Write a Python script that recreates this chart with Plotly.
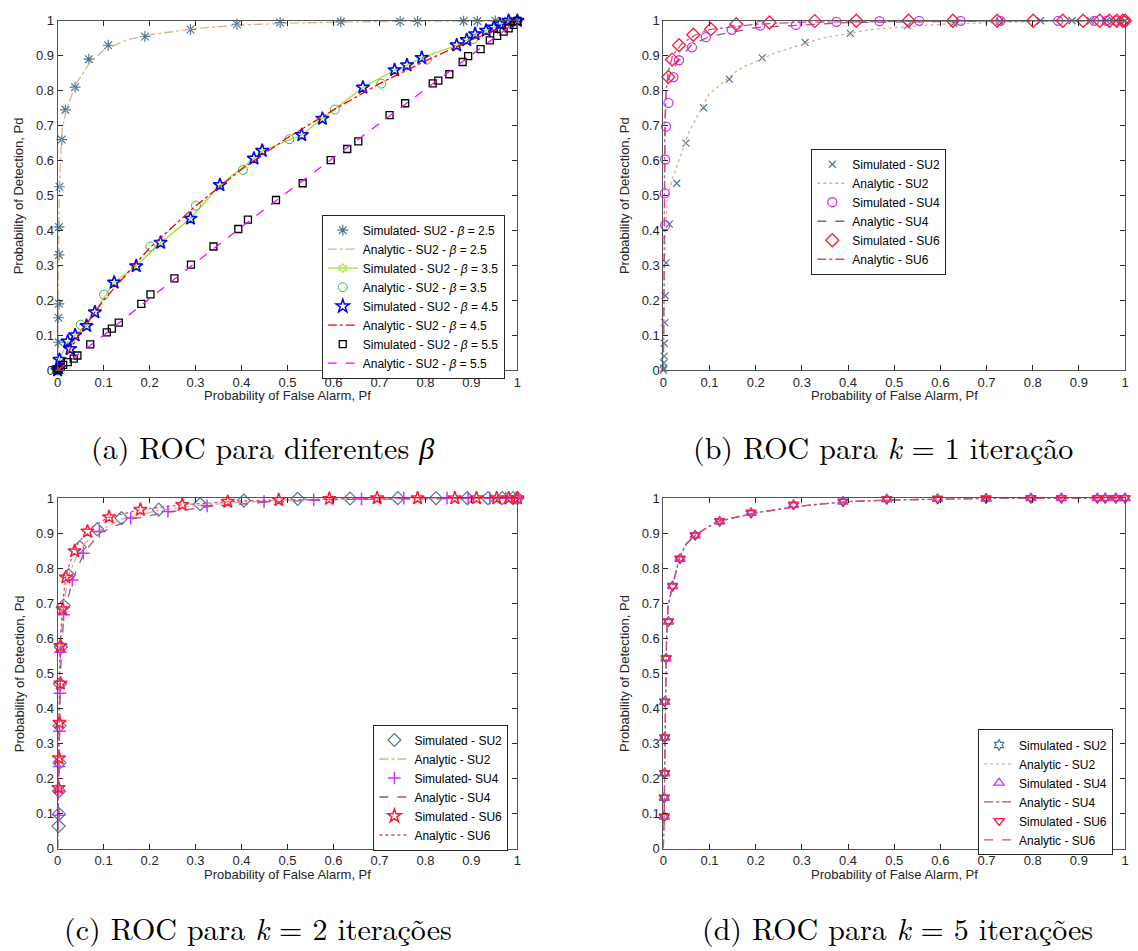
import plotly.graph_objects as go

# ---------------- (a) ROC para diferentes beta ----------------
a_sim25_x = [0.0, 0.002, 0.002, 0.003, 0.003, 0.003, 0.004, 0.009, 0.017, 0.038, 0.068, 0.11, 0.19, 0.289, 0.39, 0.484, 0.616, 0.745, 0.783, 0.883, 0.913, 0.952, 0.98, 1.0]
a_sim25_y = [0.0, 0.08, 0.15, 0.19, 0.33, 0.41, 0.525, 0.66, 0.745, 0.81, 0.89, 0.93, 0.955, 0.975, 0.99, 0.995, 0.997, 0.998, 0.998, 0.999, 0.999, 1.0, 1.0, 1.0]
a_an25_x = [0.0, 0.001, 0.003, 0.006, 0.01, 0.02, 0.04, 0.07, 0.1, 0.15, 0.2, 0.3, 0.4, 0.5, 0.6, 0.8, 1.0]
a_an25_y = [0.0, 0.2, 0.45, 0.6, 0.69, 0.75, 0.82, 0.88, 0.915, 0.945, 0.96, 0.978, 0.988, 0.993, 0.996, 0.999, 1.0]

a_sim45_x = [0.0, 0.002, 0.004, 0.022, 0.027, 0.038, 0.063, 0.081, 0.123, 0.171, 0.224, 0.289, 0.353, 0.427, 0.445, 0.531, 0.576, 0.664, 0.733, 0.760, 0.792, 0.868, 0.89, 0.908, 0.932, 0.949, 0.962, 0.981, 1.0]
a_sim45_y = [0.0, 0.006, 0.03, 0.082, 0.061, 0.10, 0.127, 0.166, 0.251, 0.298, 0.365, 0.434, 0.53, 0.606, 0.628, 0.673, 0.72, 0.809, 0.859, 0.873, 0.894, 0.93, 0.945, 0.962, 0.972, 0.981, 0.99, 1.0, 1.0]
a_an35_x = [0.0, 0.05, 0.101, 0.202, 0.301, 0.403, 0.504, 0.603, 0.704, 0.803, 0.904, 1.0]
a_an35_y = [0.0, 0.13, 0.216, 0.354, 0.471, 0.573, 0.661, 0.746, 0.82, 0.889, 0.948, 1.0]
a_an45_x = [0.0, 0.05, 0.1, 0.2, 0.3, 0.4, 0.5, 0.6, 0.7, 0.8, 0.9, 1.0]
a_an45_y = [0.0, 0.11, 0.2, 0.35, 0.47, 0.575, 0.665, 0.745, 0.82, 0.885, 0.945, 1.0]

a_sim55_x = [0.0, 0.007, 0.012, 0.022, 0.035, 0.043, 0.071, 0.107, 0.118, 0.133, 0.182, 0.202, 0.254, 0.29, 0.339, 0.393, 0.414, 0.475, 0.533, 0.594, 0.63, 0.654, 0.722, 0.756, 0.816, 0.828, 0.852, 0.881, 0.893, 0.92, 0.94, 0.956, 0.97, 0.981, 0.992, 1.0]
a_sim55_y = [0.002, 0.009, 0.015, 0.023, 0.033, 0.042, 0.074, 0.108, 0.119, 0.136, 0.19, 0.217, 0.263, 0.302, 0.354, 0.404, 0.431, 0.487, 0.535, 0.601, 0.633, 0.655, 0.73, 0.764, 0.821, 0.829, 0.847, 0.882, 0.899, 0.919, 0.944, 0.957, 0.969, 0.978, 0.988, 1.0]
a_an55_x = [0.0, 0.1, 0.2, 0.3, 0.4, 0.5, 0.6, 0.7, 0.8, 0.9, 1.0]
a_an55_y = [0.0, 0.1, 0.205, 0.308, 0.41, 0.51, 0.608, 0.707, 0.805, 0.903, 1.0]

# ---------------- (b) k = 1 ----------------
b_sim2_x = [0.0, 0.001, 0.001, 0.002, 0.002, 0.003, 0.004, 0.006, 0.013, 0.029, 0.049, 0.087, 0.143, 0.214, 0.307, 0.405, 0.529, 0.629, 0.729, 0.817, 0.885, 0.925, 0.96, 0.98, 1.0]
b_sim2_y = [0.0, 0.006, 0.02, 0.04, 0.077, 0.136, 0.213, 0.307, 0.418, 0.535, 0.65, 0.751, 0.833, 0.894, 0.938, 0.964, 0.986, 0.993, 0.998, 1.0, 1.0, 1.0, 1.0, 1.0, 1.0]
b_an2_x = [0.0, 0.002, 0.004, 0.009, 0.02, 0.034, 0.056, 0.099, 0.163, 0.242, 0.343, 0.45, 0.6, 0.8, 1.0]
b_an2_y = [0.0, 0.25, 0.38, 0.5, 0.55, 0.6, 0.683, 0.79, 0.861, 0.908, 0.95, 0.975, 0.99, 0.998, 1.0]
b_sim4_x = [0.004, 0.003, 0.004, 0.006, 0.011, 0.022, 0.034, 0.062, 0.092, 0.148, 0.21, 0.287, 0.375, 0.468, 0.554, 0.644, 0.73, 0.855, 0.933, 0.96, 0.98, 1.0]
b_sim4_y = [0.415, 0.506, 0.603, 0.697, 0.765, 0.839, 0.887, 0.924, 0.953, 0.974, 0.986, 0.988, 0.997, 0.999, 1.0, 1.0, 1.0, 1.0, 1.0, 1.0, 1.0, 1.0]
b_an4_x = [0.0, 0.002, 0.004, 0.006, 0.01, 0.02, 0.03, 0.06, 0.1, 0.2, 0.4, 0.7, 1.0]
b_an4_y = [0.0, 0.4, 0.7, 0.8, 0.83, 0.86, 0.88, 0.93, 0.955, 0.98, 0.995, 0.999, 1.0]
b_sim6_x = [0.011, 0.019, 0.034, 0.065, 0.103, 0.158, 0.23, 0.328, 0.418, 0.531, 0.627, 0.723, 0.801, 0.865, 0.909, 0.945, 0.966, 0.982, 0.995, 1.0]
b_sim6_y = [0.839, 0.889, 0.93, 0.96, 0.976, 0.99, 0.995, 0.999, 1.0, 1.0, 1.0, 1.0, 1.0, 1.0, 1.0, 1.0, 1.0, 1.0, 1.0, 1.0]
b_an6_x = [0.0, 0.002, 0.003, 0.006, 0.01, 0.02, 0.04, 0.07, 0.1, 0.2, 0.3, 0.6, 1.0]
b_an6_y = [0.0, 0.5, 0.7, 0.8, 0.85, 0.9, 0.935, 0.96, 0.975, 0.99, 0.996, 0.999, 1.0]

# ---------------- (c) k = 2 ----------------
c_sim2_x = [0.002, 0.003, 0.003, 0.004, 0.004, 0.005, 0.007, 0.013, 0.024, 0.048, 0.086, 0.139, 0.22, 0.31, 0.405, 0.522, 0.636, 0.74, 0.823, 0.891, 0.936, 0.967, 0.991, 1.0]
c_sim2_y = [0.064, 0.098, 0.164, 0.245, 0.35, 0.47, 0.575, 0.693, 0.78, 0.86, 0.911, 0.943, 0.967, 0.983, 0.993, 0.998, 0.999, 1.0, 1.0, 1.0, 1.0, 1.0, 1.0, 1.0]
c_an2_x = [0.0, 0.002, 0.004, 0.007, 0.012, 0.024, 0.048, 0.086, 0.14, 0.22, 0.31, 0.45, 0.6, 0.8, 1.0]
c_an2_y = [0.0, 0.2, 0.45, 0.6, 0.69, 0.78, 0.855, 0.905, 0.94, 0.965, 0.98, 0.992, 0.997, 0.999, 1.0]
c_sim4_x = [0.003, 0.002, 0.003, 0.004, 0.005, 0.006, 0.013, 0.032, 0.056, 0.091, 0.159, 0.24, 0.325, 0.449, 0.557, 0.661, 0.753, 0.847, 0.893, 0.94, 0.975, 1.0]
c_sim4_y = [0.095, 0.164, 0.234, 0.335, 0.443, 0.56, 0.667, 0.766, 0.843, 0.905, 0.943, 0.962, 0.978, 0.99, 0.995, 0.998, 1.0, 1.0, 1.0, 1.0, 1.0, 1.0]
c_an4_x = [0.0, 0.003, 0.006, 0.013, 0.032, 0.056, 0.09, 0.16, 0.24, 0.33, 0.45, 0.6, 0.8, 1.0]
c_an4_y = [0.0, 0.3, 0.5, 0.66, 0.765, 0.84, 0.9, 0.94, 0.96, 0.976, 0.988, 0.996, 0.999, 1.0]
c_sim6_x = [0.002, 0.003, 0.004, 0.006, 0.006, 0.011, 0.018, 0.037, 0.065, 0.112, 0.18, 0.271, 0.37, 0.481, 0.591, 0.695, 0.783, 0.864, 0.911, 0.955, 0.981, 1.0]
c_sim6_y = [0.173, 0.258, 0.359, 0.471, 0.578, 0.683, 0.774, 0.849, 0.905, 0.946, 0.967, 0.981, 0.99, 0.995, 0.998, 1.0, 1.0, 1.0, 1.0, 1.0, 1.0, 1.0]
c_an6_x = [0.0, 0.002, 0.004, 0.006, 0.011, 0.018, 0.037, 0.065, 0.11, 0.18, 0.27, 0.4, 0.6, 0.8, 1.0]
c_an6_y = [0.0, 0.3, 0.5, 0.6, 0.7, 0.78, 0.855, 0.91, 0.945, 0.967, 0.981, 0.992, 0.998, 1.0, 1.0]

# ---------------- (d) k = 5 ----------------
d_sim_x = [0.002, 0.002, 0.003, 0.003, 0.003, 0.006, 0.011, 0.02, 0.036, 0.069, 0.122, 0.19, 0.282, 0.389, 0.484, 0.594, 0.699, 0.796, 0.862, 0.94, 0.957, 0.98, 1.0]
d_sim_y = [0.091, 0.145, 0.215, 0.317, 0.419, 0.543, 0.648, 0.749, 0.827, 0.894, 0.934, 0.958, 0.981, 0.99, 0.997, 0.998, 0.999, 1.0, 1.0, 1.0, 1.0, 1.0, 1.0]
d_an_x = [0.0, 0.001, 0.002, 0.003, 0.005, 0.007, 0.01, 0.02, 0.035, 0.05, 0.07, 0.1, 0.12, 0.2, 0.3, 0.4, 0.5, 0.7, 1.0]
d_an_y = [0.0, 0.05, 0.12, 0.25, 0.45, 0.6, 0.69, 0.75, 0.83, 0.87, 0.895, 0.92, 0.934, 0.958, 0.978, 0.99, 0.995, 0.999, 1.0]

ticks = [0, 0.1, 0.2, 0.3, 0.4, 0.5, 0.6, 0.7, 0.8, 0.9, 1]
tick_labels = ["0", "0.1", "0.2", "0.3", "0.4", "0.5", "0.6", "0.7", "0.8", "0.9", "1"]

captions = ["(a) ROC para diferentes <span style=\"font-family:'Liberation Serif'\"><i>β</i></span>",
            "(b) ROC para <i>k</i> = 1 iteração",
            "(c) ROC para <i>k</i> = 2 iterações",
            "(d) ROC para <i>k</i> = 5 iterações"]
x_title = "Probability of False Alarm, Pf"
y_title = "Probability of Detection, Pd"

W, H = 1138, 951
# ---- colours ----
STEEL = "#4a7796"
TAN = "#d9b38c"
YG = "#9ee02e"
GREEN = "#3cb44b"
BLUE = "#0000ff"
RED = "#ff0000"
BLACK = "#000000"
MAG = "#ff00ff"
PURP = "#cc33ff"
MAUVE = "#a3508f"
PINK = "#d9468c"
RED6 = "#ff1a33"

fig = go.Figure()

# panel pixel boxes: left, right, top, bottom
boxes = [(54, 517, 14, 369), (664, 1129, 14, 369), (54, 517, 499, 855), (664, 1129, 499, 855)]
legpos = [(320, 211), (813, 144), (372, 729), (981, 734)]
cap_cx = [260, 885, 256, 900]
cap_cy = [447, 447, 935, 935]


def px2x(p):
    return p / W


def px2y(p):
    return 1 - p / H


axis_color = "#555555"
for i, (l, r, t, b) in enumerate(boxes):
    n = "" if i == 0 else str(i + 1)
    common = dict(range=[0, 1], tickvals=ticks, ticktext=tick_labels, ticks="inside", ticklen=5,
                  tickcolor="#262626", showline=True, linecolor=axis_color, linewidth=1,
                  mirror="allticks", showgrid=False, zeroline=False, fixedrange=True,
                  tickfont=dict(family="Liberation Sans, Arial", size=13, color="#262626"))
    fig.layout["xaxis" + n] = dict(domain=[px2x(l), px2x(r)], anchor="y" + n, **common)
    fig.layout["yaxis" + n] = dict(domain=[px2y(b), px2y(t)], anchor="x" + n, **common)

traces = [
    # panel a
    (0, "Simulated- SU2 - <i>β</i> = 2.5", a_sim25_x, a_sim25_y, "markers", None, None, dict(symbol="asterisk-open", size=9, color=STEEL, line=dict(width=1.2, color=STEEL))),
    (0, "Analytic - SU2 - <i>β</i> = 2.5", a_an25_x, a_an25_y, "lines", TAN, "dashdot", None),
    (0, "Simulated - SU2 - <i>β</i> = 3.5", a_sim45_x, a_sim45_y, "lines+markers", YG, "solid", dict(symbol="hexagram-open", size=7, color=YG, line=dict(width=1, color=YG))),
    (0, "Analytic - SU2 - <i>β</i> = 3.5", a_an35_x, a_an35_y, "markers", None, None, dict(symbol="circle-open", size=9, color=GREEN, line=dict(width=1, color=GREEN))),
    (0, "Simulated - SU2 - <i>β</i> = 4.5", a_sim45_x, a_sim45_y, "markers", None, None, dict(symbol="star-open", size=10, color=BLUE, line=dict(width=1.5, color=BLUE))),
    (0, "Analytic - SU2 - <i>β</i> = 4.5", a_an45_x, a_an45_y, "lines", RED, "dashdot", None),
    (0, "Simulated - SU2 - <i>β</i> = 5.5", a_sim55_x, a_sim55_y, "markers", None, None, dict(symbol="square-open", size=7, color=BLACK, line=dict(width=1.3, color=BLACK))),
    (0, "Analytic - SU2 - <i>β</i> = 5.5", a_an55_x, a_an55_y, "lines", MAG, "dash", None),
    # panel b
    (1, "Simulated - SU2", b_sim2_x, b_sim2_y, "markers", None, None, dict(symbol="x-thin-open", size=7, color=STEEL, line=dict(width=1.2, color=STEEL))),
    (1, "Analytic - SU2", b_an2_x, b_an2_y, "lines", TAN, "dot", None),
    (1, "Simulated - SU4", b_sim4_x, b_sim4_y, "markers", None, None, dict(symbol="circle-open", size=9, color=PURP, line=dict(width=1.3, color=PURP))),
    (1, "Analytic - SU4", b_an4_x, b_an4_y, "lines", MAUVE, "dash", None),
    (1, "Simulated - SU6", b_sim6_x, b_sim6_y, "markers", None, None, dict(symbol="diamond-open", size=10, color=RED6, line=dict(width=1.3, color=RED6))),
    (1, "Analytic - SU6", b_an6_x, b_an6_y, "lines", PINK, "dashdot", None),
    # panel c
    (2, "Simulated - SU2", c_sim2_x, c_sim2_y, "markers", None, None, dict(symbol="diamond-open", size=10, color=STEEL, line=dict(width=1.2, color=STEEL))),
    (2, "Analytic - SU2", c_an2_x, c_an2_y, "lines", TAN, "dashdot", None),
    (2, "Simulated- SU4", c_sim4_x, c_sim4_y, "markers", None, None, dict(symbol="cross-thin-open", size=9, color=PURP, line=dict(width=1.5, color=PURP))),
    (2, "Analytic - SU4", c_an4_x, c_an4_y, "lines", MAUVE, "dash", None),
    (2, "Simulated - SU6", c_sim6_x, c_sim6_y, "markers", None, None, dict(symbol="star-open", size=10, color=RED6, line=dict(width=1.5, color=RED6))),
    (2, "Analytic - SU6", c_an6_x, c_an6_y, "lines", PINK, "dot", None),
    # panel d
    (3, "Simulated - SU2", d_sim_x, d_sim_y, "markers", None, None, dict(symbol="hexagram-open", size=8, color=STEEL, line=dict(width=1.2, color=STEEL))),
    (3, "Analytic - SU2", d_an_x, d_an_y, "lines", TAN, "dot", None),
    (3, "Simulated - SU4", d_sim_x, d_sim_y, "markers", None, None, dict(symbol="triangle-up-open", size=9, color=PURP, line=dict(width=1.3, color=PURP))),
    (3, "Analytic - SU4", d_an_x, d_an_y, "lines", MAUVE, "dashdot", None),
    (3, "Simulated - SU6", d_sim_x, d_sim_y, "markers", None, None, dict(symbol="triangle-down-open", size=9, color=RED6, line=dict(width=1.3, color=RED6))),
    (3, "Analytic - SU6", d_an_x, d_an_y, "lines", PINK, "dash", None),
]

for (p, name, xs, ys, mode, lc, dash, mk) in traces:
    n = "" if p == 0 else str(p + 1)
    kw = dict(x=xs, y=ys, mode=mode, name=name, xaxis="x" + n, yaxis="y" + n,
              legend="legend" if p == 0 else "legend" + str(p + 1), cliponaxis=False)
    if "lines" in mode:
        kw["line"] = dict(color=lc, dash=dash, width=1.3)
    if mk is not None:
        kw["marker"] = mk
    fig.add_trace(go.Scatter(**kw))

for i, (lx, ly) in enumerate(legpos):
    key = "legend" if i == 0 else "legend" + str(i + 1)
    fig.layout[key] = dict(x=px2x(lx), y=px2y(ly), xanchor="left", yanchor="top",
                           bgcolor="white", bordercolor="#262626", borderwidth=1,
                           font=dict(family="Liberation Sans, Arial", size=12, color="#000"),
                           itemwidth=30, tracegroupgap=0, traceorder="normal")

anns = []
for i, (l, r, t, b) in enumerate(boxes):
    cx = (l + r) / 2
    anns.append(dict(text=x_title, x=px2x(cx), y=px2y(b + 26), xref="paper", yref="paper",
                     showarrow=False, xanchor="center", yanchor="middle",
                     font=dict(family="Liberation Sans, Arial", size=13, color="#262626")))
    anns.append(dict(text=y_title, x=px2x(l - 39), y=px2y((t + b) / 2), xref="paper", yref="paper",
                     showarrow=False, xanchor="center", yanchor="middle", textangle=-90,
                     font=dict(family="Liberation Sans, Arial", size=13, color="#262626")))
    anns.append(dict(text=captions[i], x=px2x(cap_cx[i]), y=px2y(cap_cy[i]), xref="paper", yref="paper",
                     showarrow=False, xanchor="center", yanchor="middle",
                     font=dict(family="Latin Modern Roman, DejaVu Serif, Liberation Serif", size=30, color="#000")))

fig.update_layout(width=W, height=H, margin=dict(l=0, r=0, t=0, b=0), plot_bgcolor="white",
                  paper_bgcolor="white", annotations=anns, showlegend=True)

fig.write_html("out.html")
